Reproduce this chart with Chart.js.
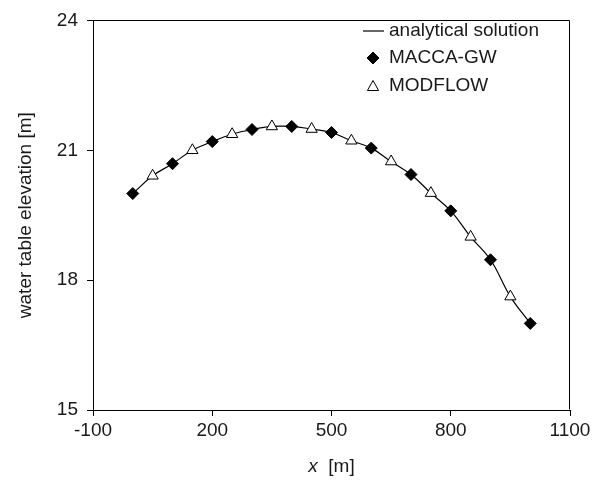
<!DOCTYPE html>
<html>
<head>
<meta charset="utf-8">
<script src="https://cdn.jsdelivr.net/npm/chart.js@4.4.1/dist/chart.umd.min.js"></script>
<style>
  html, body { margin: 0; padding: 0; background: #fff; }
  canvas { display: block; }
</style>
</head>
<body>
<canvas id="chart" width="601" height="492"></canvas>
<script>
// x positions [m] and water table elevations [m]
var analyticX = [0, 50, 100, 150, 200, 250, 300, 350, 400, 450, 500,
                 550, 600, 650, 700, 750, 800, 850, 900, 950, 1000];
var analyticY = [20.00, 20.41, 20.69, 21.00, 21.20, 21.37, 21.48, 21.55, 21.55, 21.49, 21.41,
                 21.22, 21.05, 20.74, 20.44, 20.01, 19.60, 19.00, 18.47, 17.62, 17.00];

var maccaX = [0, 100, 200, 300, 400, 500, 600, 700, 800, 900, 1000];
var maccaY = [20.00, 20.69, 21.20, 21.48, 21.55, 21.41, 21.05, 20.44, 19.60, 18.47, 17.00];

var modflowX = [50, 150, 250, 350, 450, 550, 650, 750, 850, 950];
var modflowY = [20.41, 21.00, 21.37, 21.55, 21.49, 21.22, 20.74, 20.01, 19.00, 17.62];

var seriesNames = ["analytical solution", "MACCA-GW", "MODFLOW"];
var xTicks = [-100, 200, 500, 800, 1100];
var yTicks = [15, 18, 21, 24];

var FONT = "'Liberation Sans', Arial, sans-serif";
var TEXT = "#1a1a1a";

function pairs(xs, ys) {
  return xs.map(function (x, i) { return { x: x, y: ys[i] }; });
}

// closes the box: top and right edges of the plot area
var frame = {
  id: "frame",
  afterDraw: function (chart) {
    var a = chart.chartArea, ctx = chart.ctx;
    var l = Math.round(a.left) + 0.5, r = Math.round(a.right) - 0.5;
    var t = Math.round(a.top) + 0.5, b = Math.round(a.bottom) - 0.5;
    ctx.save();
    ctx.strokeStyle = "#000";
    ctx.lineWidth = 1;
    ctx.beginPath();
    ctx.moveTo(l, t); ctx.lineTo(r, t); ctx.lineTo(r, b);
    ctx.stroke();
    ctx.restore();
  }
};

// x axis title, "x" in italics
var xTitle = {
  id: "xTitle",
  afterDraw: function (chart) {
    var a = chart.chartArea, ctx = chart.ctx;
    ctx.save();
    ctx.fillStyle = TEXT;
    ctx.textBaseline = "middle";
    ctx.font = "italic 19px " + FONT;
    var w1 = ctx.measureText("x").width;
    ctx.font = "19px " + FONT;
    var w2 = ctx.measureText("  [m]").width;
    var x0 = (a.left + a.right) / 2 - (w1 + w2) / 2;
    ctx.font = "italic 19px " + FONT;
    ctx.fillText("x", x0, 467);
    ctx.font = "19px " + FONT;
    ctx.fillText("  [m]", x0 + w1, 467);
    ctx.restore();
  }
};

// legend in the upper right of the plot
var legendBox = {
  id: "legendBox",
  afterDraw: function (chart) {
    var ctx = chart.ctx;
    var mx = 373, tx = 389, rows = [31, 58, 86];
    ctx.save();
    ctx.strokeStyle = "#000";
    ctx.lineWidth = 1.2;
    ctx.beginPath();
    ctx.moveTo(363, rows[0]); ctx.lineTo(384, rows[0]);
    ctx.stroke();

    ctx.lineWidth = 1;
    ctx.fillStyle = "#000";
    ctx.beginPath();
    ctx.moveTo(mx - 6, rows[1]); ctx.lineTo(mx, rows[1] - 6);
    ctx.lineTo(mx + 6, rows[1]); ctx.lineTo(mx, rows[1] + 6);
    ctx.closePath();
    ctx.fill(); ctx.stroke();

    ctx.fillStyle = "#fff";
    ctx.beginPath();
    ctx.moveTo(mx, rows[2] - 5.5);
    ctx.lineTo(mx + 5.6, rows[2] + 4.5);
    ctx.lineTo(mx - 5.6, rows[2] + 4.5);
    ctx.closePath();
    ctx.fill(); ctx.stroke();

    ctx.fillStyle = TEXT;
    ctx.font = "19px " + FONT;
    ctx.textBaseline = "middle";
    for (var i = 0; i < seriesNames.length; i++) {
      ctx.fillText(seriesNames[i], tx, rows[i]);
    }
    ctx.restore();
  }
};

new Chart(document.getElementById("chart"), {
  type: "scatter",
  data: {
    datasets: [
      {
        label: seriesNames[0],
        type: "line",
        data: pairs(analyticX, analyticY),
        borderColor: "#000",
        borderWidth: 1.2,
        pointRadius: 0,
        tension: 0.4,
        fill: false,
        order: 3
      },
      {
        label: seriesNames[1],
        data: pairs(maccaX, maccaY),
        pointStyle: "rectRot",
        pointRadius: 6,
        backgroundColor: "#000",
        borderColor: "#000",
        borderWidth: 1,
        order: 2
      },
      {
        label: seriesNames[2],
        data: pairs(modflowX, modflowY),
        pointStyle: "triangle",
        pointRadius: 6.5,
        backgroundColor: "#fff",
        borderColor: "#000",
        borderWidth: 1,
        order: 1
      }
    ]
  },
  options: {
    responsive: false,
    animation: false,
    devicePixelRatio: 1,
    layout: { padding: { top: 13, right: 31, left: 0, bottom: 0 } },
    plugins: { legend: { display: false }, tooltip: { enabled: false } },
    scales: {
      x: {
        type: "linear",
        min: xTicks[0],
        max: xTicks[xTicks.length - 1],
        afterBuildTicks: function (s) { s.ticks = xTicks.map(function (v) { return { value: v }; }); },
        afterFit: function (s) { s.height = 82; },
        ticks: {
          color: TEXT, font: { family: FONT, size: 19 }, padding: 3, maxRotation: 0,
          callback: function (v) { return String(v); }
        },
        grid: { drawOnChartArea: false, tickLength: 6, color: "#000" },
        border: { color: "#000", width: 1 }
      },
      y: {
        min: yTicks[0],
        max: yTicks[yTicks.length - 1],
        afterBuildTicks: function (s) { s.ticks = yTicks.map(function (v) { return { value: v }; }); },
        afterFit: function (s) { s.width = 93; },
        ticks: {
          color: TEXT, font: { family: FONT, size: 19 }, padding: 9,
          callback: function (v) { return String(v); }
        },
        grid: { drawOnChartArea: false, tickLength: 6, color: "#000" },
        border: { color: "#000", width: 1 },
        title: {
          display: true,
          text: "water table elevation [m]",
          color: TEXT,
          font: { family: FONT, size: 19 },
          padding: { top: 14, bottom: 0 }
        }
      }
    }
  },
  plugins: [frame, xTitle, legendBox]
});
</script>
</body>
</html>
